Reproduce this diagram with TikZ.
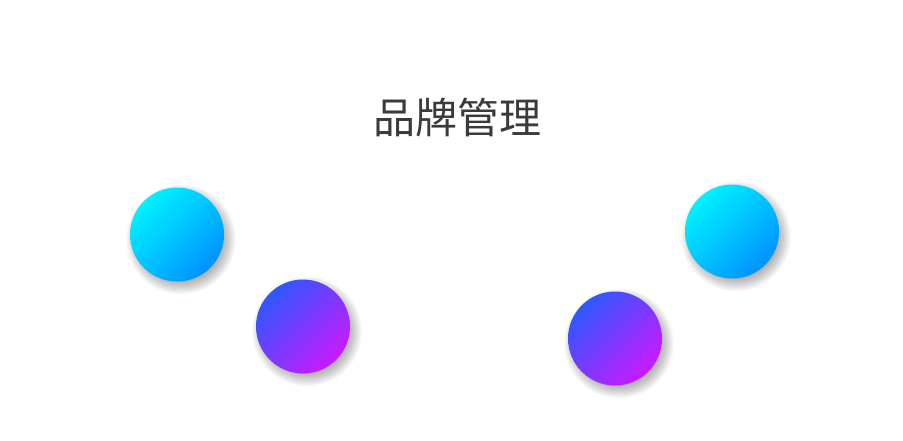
\documentclass[tikz,border=0pt]{standalone}
\usepackage{fontspec}
\newfontfamily\cjk{Noto Sans CJK SC}
\definecolor{cyanA}{HTML}{00F2FF}
\definecolor{cyanB}{HTML}{0092FF}
\definecolor{purpA}{HTML}{2F58FF}
\definecolor{purpB}{HTML}{C81AFF}
\definecolor{titlegray}{HTML}{3A3A3A}
\tikzset{
  ball/.style={circle, minimum size=94pt, inner sep=0pt},
  cyanball/.style={ball, top color=cyanA, bottom color=cyanB, shading angle=45},
  purpball/.style={ball, top color=purpA, bottom color=purpB, shading angle=45},
  shadowlayer/.style={fill=black, fill opacity=0.024},
}
\begin{document}
\begin{tikzpicture}[x=1pt,y=1pt]
\useasboundingbox[fill=white] (0,0) rectangle (903,-440);
\node[font=\cjk\fontsize{42}{48}\selectfont, text=titlegray, inner sep=0pt] (title) at (457.5,-117) {品牌管理};
\coordinate (c1pos) at (177,-234.5);
\coordinate (p1pos) at (303,-326.5);
\coordinate (p2pos) at (615,-338.5);
\coordinate (c2pos) at (732,-231.5);
\foreach \p in {c1pos,p1pos,p2pos,c2pos}
  \foreach \r in {39,40,...,55}
    \fill[shadowlayer] ([shift={(4,-5)}]\p) circle[radius=\r];
\node[cyanball] (c1) at (c1pos) {};
\node[purpball] (p1) at (p1pos) {};
\node[purpball] (p2) at (p2pos) {};
\node[cyanball] (c2) at (c2pos) {};
\end{tikzpicture}
\end{document}
